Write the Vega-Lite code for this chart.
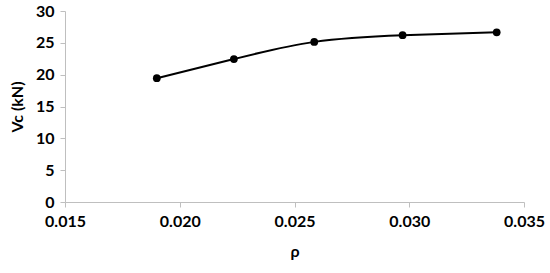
{
  "$schema": "https://vega.github.io/schema/vega-lite/v6.json",
  "autosize": "none",
  "width": 459,
  "height": 191,
  "padding": {"left": 65, "top": 11, "right": 26, "bottom": 71},
  "background": "white",
  "config": {
    "view": {"stroke": null},
    "font": "Lato",
    "axis": {
      "grid": false,
      "domainColor": "#bfbfbf",
      "tickColor": "#bfbfbf",
      "domainWidth": 1,
      "tickWidth": 1,
      "tickSize": 5,
      "labelFont": "Lato",
      "labelFontWeight": "bold",
      "labelFontSize": 16,
      "labelColor": "#000000",
      "titleFont": "Lato",
      "titleFontWeight": "bold",
      "titleFontSize": 16,
      "titleColor": "#000000"
    }
  },
  "data": {
    "values": [
      {"rho": 0.0190, "vc": 19.45},
      {"rho": 0.02236, "vc": 22.45},
      {"rho": 0.02586, "vc": 25.15},
      {"rho": 0.02971, "vc": 26.2},
      {"rho": 0.03381, "vc": 26.65}
    ]
  },
  "encoding": {
    "x": {
      "field": "rho",
      "type": "quantitative",
      "title": "ρ",
      "scale": {"domain": [0.015, 0.035], "nice": false, "zero": false},
      "axis": {"values": [0.015, 0.02, 0.025, 0.03, 0.035], "format": ".3f", "labelPadding": 6, "titlePadding": 14, "labelFlush": false}
    },
    "y": {
      "field": "vc",
      "type": "quantitative",
      "title": "Vc (kN)",
      "scale": {"domain": [0, 30], "nice": false},
      "axis": {"values": [0, 5, 10, 15, 20, 25, 30], "labelPadding": 6, "titlePadding": 10}
    }
  },
  "layer": [
    {"mark": {"type": "line", "color": "#000000", "strokeWidth": 2, "interpolate": "natural"}},
    {"mark": {"type": "point", "filled": true, "color": "#000000", "opacity": 1, "size": 60}}
  ]
}
